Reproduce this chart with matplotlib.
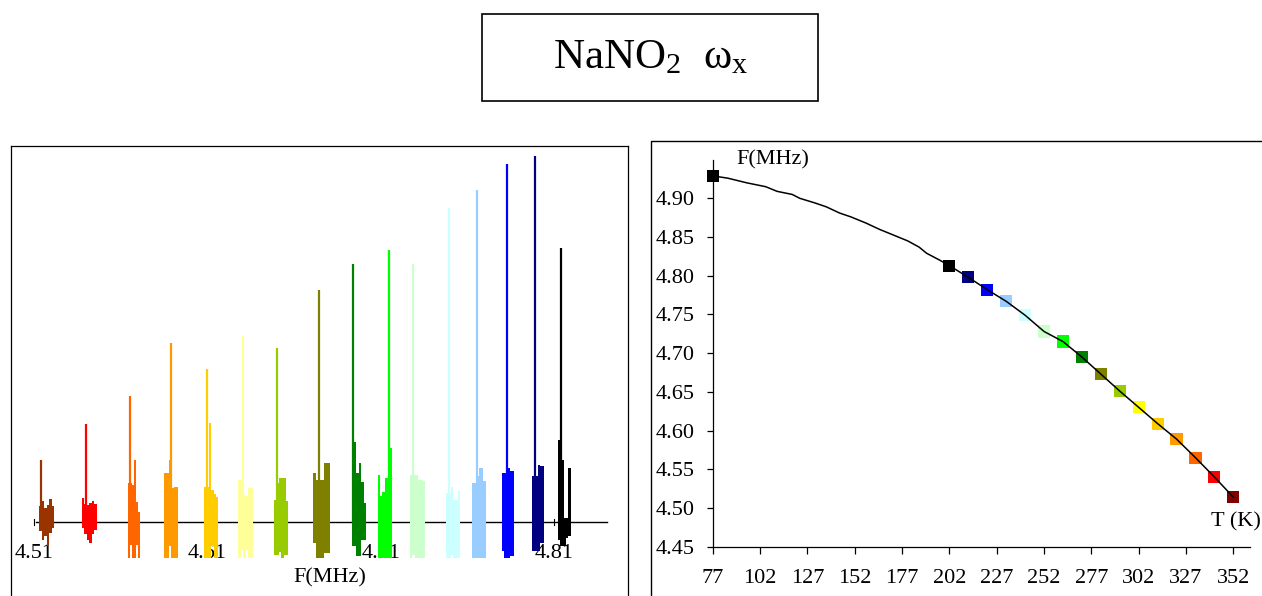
import matplotlib
matplotlib.use('Agg')
import matplotlib.pyplot as plt
import numpy as np
from matplotlib.lines import Line2D
from matplotlib.patches import Rectangle

plt.rcParams['font.family'] = ['Liberation Serif', 'DejaVu Serif']
plt.rcParams['mathtext.fontset'] = 'custom'
plt.rcParams['mathtext.rm'] = 'Liberation Serif'
plt.rcParams['mathtext.it'] = 'Liberation Serif:italic'

# ---------------- data ----------------
title_text = r'NaNO$_2$  ω$_\mathrm{x}$'

# left panel: spectra (frequency in MHz, intensity in arb. units)
spec_colors = ["#993300", "#FF0000", "#FF6600", "#FF9900", "#FFCC00", "#FFFF99",
               "#99CC00", "#808000", "#008000", "#00FF00", "#CCFFCC", "#CCFFFF",
               "#99CCFF", "#0000FF", "#000080", "#000000"]
peak_f = [4.5140, 4.5400, 4.5653, 4.5890, 4.6097, 4.6305, 4.6501, 4.6743,
          4.6937, 4.7146, 4.7286, 4.7492, 4.7653, 4.7826, 4.7988, 4.8137]
peak_h = [62, 98, 126, 179, 153, 186, 174, 232, 258, 272, 258, 314, 332, 358, 366, 274]
block_lo = [4.5131, 4.5375, 4.5642, 4.5849, 4.6080, 4.6278, 4.6483, 4.6710,
            4.6931, 4.7081, 4.7267, 4.7475, 4.7626, 4.7799, 4.7969, 4.8118]
block_hi = [4.5215, 4.5461, 4.5711, 4.5932, 4.6162, 4.6360, 4.6566, 4.6806,
            4.7014, 4.7161, 4.7354, 4.7555, 4.7703, 4.7867, 4.8041, 4.8193]
upper = [[16, 21, 14, 17, 23, 16], [24, 18, 17, 19, 21, 18], [39, 39, 37, 62, 20, 10],
         [49, 49, 62, 34, 35, 35], [35, 35, 99, 32, 28, 25], [42, 42, 26, 26, 34, 34],
         [22, 39, 44, 44, 44, 21], [49, 42, 42, 42, 59, 59], [160, 80, 49, 59, 40, 19],
         [47, 26, 30, 44, 44, 74], [47, 47, 47, 42, 42, 41], [29, 29, 35, 22, 22, 31],
         [39, 39, 46, 54, 54, 41], [49, 49, 54, 54, 51, 51], [46, 46, 46, 57, 56, 56],
         [82, 82, 62, 4, 4, 54]]
lower = [[-9, -18, -14, -24, -11, -6], [-6, -12, -18, -21, -12, -8],
         [-36, -23, -36, -36, -23, -36], [-36, -36, -24, -36, -36, -36],
         [-36, -36, -36, -24, -36, -36], [-36, -28, -36, -28, -36, -36],
         [-33, -33, -30, -36, -33, -33], [-21, -36, -36, -36, -31, -31],
         [-24, -24, -34, -34, -18, -18], [-36, -36, -36, -36, -36, -36],
         [-36, -33, -36, -36, -36, -36], [-36, -36, -33, -36, -36, -36],
         [-36, -36, -36, -36, -36, -36], [-29, -36, -36, -36, -34, -34],
         [-29, -29, -29, -29, -21, -21], [-18, -24, -24, -24, -16, -14]]
left_ticks = [4.51, 4.61, 4.71, 4.81]
left_ticklabels = ["4.51", "4.61", "4.71", "4.81"]
left_xlabel = "F(MHz)"

# right panel: F vs T
T_line = [77, 85, 95, 105, 111, 119, 123, 131, 137, 144, 150, 158, 165, 172, 180, 186,
          190, 197, 202, 212, 222, 232, 242, 252, 262, 272, 282, 292, 302, 312, 322,
          332, 342, 352]
F_line = [4.929, 4.926, 4.920, 4.915, 4.909, 4.905, 4.900, 4.894, 4.889, 4.881, 4.876,
          4.868, 4.860, 4.853, 4.845, 4.837, 4.829, 4.820, 4.813, 4.798, 4.782, 4.767,
          4.749, 4.728, 4.715, 4.695, 4.673, 4.651, 4.630, 4.609, 4.589, 4.565, 4.540,
          4.514]
T_pts = [77, 202, 212, 222, 232, 242, 252, 262, 272, 282, 292, 302, 312, 322, 332, 342, 352]
F_pts = [4.929, 4.813, 4.798, 4.782, 4.767, 4.749, 4.728, 4.715, 4.695, 4.673, 4.651,
         4.630, 4.609, 4.589, 4.565, 4.540, 4.514]
pt_colors = ["#000000", "#000000", "#000080", "#0000FF", "#99CCFF", "#CCFFFF", "#CCFFCC",
             "#00FF00", "#008000", "#808000", "#99CC00", "#FFFF00", "#FFCC00", "#FF9900",
             "#FF6600", "#FF0000", "#800000"]
T_ticks = [77, 102, 127, 152, 177, 202, 227, 252, 277, 302, 327, 352]
F_ticks = [4.45, 4.50, 4.55, 4.60, 4.65, 4.70, 4.75, 4.80, 4.85, 4.90]

# ---------------- figure ----------------
W, H = 1262, 596
fig = plt.figure(figsize=(W / 100, H / 100), dpi=100)


def fx(px):
    return px / W


def fy(py):
    return 1 - py / H


# title box
fig.add_artist(Rectangle((fx(481.7), fy(100.7)), (818.3 - 481.7) / W, (100.7 - 14) / H,
                         transform=fig.transFigure, fill=False, lw=1.2, ec='black'))
fig.text(fx(651), fy(68), title_text, ha='center', va='baseline', fontsize=31)

# ---- left panel ----
axL = fig.add_axes([fx(11), 0, (628 - 11) / W, (596 - 146) / H])
axL.set_xlim(4.4967, 4.8524)
axL.set_ylim(-74, 376)
axL.set_xticks([])
axL.set_yticks([])
for s in ['left', 'top', 'right']:
    axL.spines[s].set_linewidth(0.9)
axL.spines['bottom'].set_visible(False)

axL.plot([4.5112, 4.8403], [0, 0], color='black', lw=1.0, zorder=2)
for t, lab in zip(left_ticks, left_ticklabels):
    axL.plot([t, t], [-3, 3], color='black', lw=0.8, zorder=2)
    axL.text(t, -32, lab, ha='center', va='center', fontsize=16, zorder=1)
axL.text(4.6804, -56, left_xlabel, ha='center', va='center', fontsize=16)

for i, c in enumerate(spec_colors):
    n = len(upper[i])
    edges = np.linspace(block_lo[i], block_hi[i], n + 1)
    up = list(upper[i]) + [upper[i][-1]]
    lo = list(lower[i]) + [lower[i][-1]]
    axL.fill_between(edges, lo, up, step='post', color=c, lw=0, zorder=3)
    axL.vlines(peak_f[i], 0, peak_h[i], color=c, lw=1.6, zorder=3)

# ---- right panel ----
fig.add_artist(Line2D([fx(651), fx(651), fx(1262)], [fy(596), fy(141), fy(141)],
                      transform=fig.transFigure, color='black', lw=1.0))
axR = fig.add_axes([fx(712.7), fy(546.7), (1250 - 712.7) / W, (546.7 - 159.6) / H])
axR.set_xlim(77, 360.8)
axR.set_ylim(4.45, 4.95)
axR.spines['top'].set_visible(False)
axR.spines['right'].set_visible(False)
axR.spines['left'].set_linewidth(0.9)
axR.spines['bottom'].set_linewidth(0.9)
axR.set_xticks(T_ticks)
axR.set_xticklabels([str(t) for t in T_ticks])
axR.set_yticks(F_ticks)
axR.set_yticklabels(["%.2f" % f for f in F_ticks])
axR.tick_params(axis='x', direction='out', length=5, width=0.9, labelsize=16, pad=11)
axR.tick_params(axis='y', direction='out', length=4.5, width=0.9, labelsize=16, pad=8.4)

axR.scatter(T_pts, F_pts, marker='s', s=76, c=pt_colors, linewidths=0, zorder=3,
            clip_on=False)
axR.plot(T_line, F_line, color='black', lw=1.1, zorder=4, clip_on=False)
axR.text(108.9, 4.9495, "F(MHz)", ha='center', va='center', fontsize=16, clip_on=False)
axR.text(340.0, 4.4823, "T (K)", ha='left', va='center', fontsize=16, clip_on=False)

fig.savefig('out.png', dpi=100)
